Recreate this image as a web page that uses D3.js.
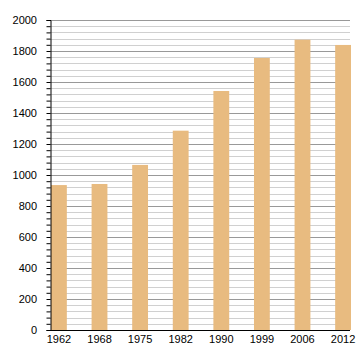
<!DOCTYPE html>
<html>
<head>
<meta charset="utf-8">
<script src="https://cdn.jsdelivr.net/npm/d3@7"></script>
<style>
  body { margin: 0; background: #fff; }
  text { font-family: "Liberation Sans", Arial, sans-serif; font-size: 11px; fill: #000; }
</style>
</head>
<body>
<div id="chart"></div>
<script>
// population by census year
const years = ["1962", "1968", "1975", "1982", "1990", "1999", "2006", "2012"];
const population = [935, 942, 1065, 1286, 1542, 1755, 1873, 1839];
const majorTicks = [0, 200, 400, 600, 800, 1000, 1200, 1400, 1600, 1800, 2000];

const width = 360, height = 360;
const plotLeft = 50, plotRight = 350, plotTop = 20, plotBottom = 330;

const svg = d3.select("#chart").append("svg")
    .attr("width", width)
    .attr("height", height);

const y = d3.scaleLinear().domain([0, 2000]).range([plotBottom, plotTop]);
const x = d3.scaleBand().domain(years).range([plotLeft + 1, plotRight + 1])
    .paddingInner(0.61).paddingOuter(0);

const minorTicks = d3.range(0, 2001, 40).filter(v => v % 200 !== 0);

// minor grid
svg.append("g").selectAll("line")
    .data(minorTicks)
    .enter().append("line")
    .attr("x1", plotLeft).attr("x2", plotRight)
    .attr("y1", d => Math.round(y(d)) + 0.5).attr("y2", d => Math.round(y(d)) + 0.5)
    .attr("stroke", "#d0d0d0");

// major grid
svg.append("g").selectAll("line")
    .data(majorTicks.filter(d => d > 0))
    .enter().append("line")
    .attr("x1", plotLeft).attr("x2", plotRight)
    .attr("y1", d => Math.round(y(d)) + 0.5).attr("y2", d => Math.round(y(d)) + 0.5)
    .attr("stroke", "#999");

// bars
svg.append("g").selectAll("rect")
    .data(years)
    .enter().append("rect")
    .attr("x", d => x(d))
    .attr("width", x.bandwidth())
    .attr("y", (d, i) => y(population[i]))
    .attr("height", (d, i) => y(0) - y(population[i]))
    .attr("fill", "#e8bb80");

// y axis with minor ticks
const yAxis = svg.append("g")
    .attr("transform", `translate(${plotLeft + 0.5},0)`)
    .call(d3.axisLeft(y).tickValues(d3.range(0, 2001, 40)).tickSize(4).tickFormat(""));
yAxis.select(".domain").attr("stroke", "#000");
yAxis.selectAll(".tick line").attr("stroke", "#000");

svg.append("g").selectAll("text")
    .data(majorTicks)
    .enter().append("text")
    .attr("x", plotLeft - 13)
    .attr("y", d => y(d))
    .attr("dy", "0.35em")
    .attr("text-anchor", "end")
    .text(d => d);

// x axis
const xAxis = svg.append("g")
    .attr("transform", `translate(0,${plotBottom + 0.5})`)
    .call(d3.axisBottom(x).tickSize(0).tickPadding(5));
xAxis.select(".domain").attr("d", `M${plotLeft},0H${plotRight}`).attr("stroke", "#000");
xAxis.selectAll("text").style("font-size", "11px").style("font-family", "Liberation Sans, Arial, sans-serif");
</script>
</body>
</html>
